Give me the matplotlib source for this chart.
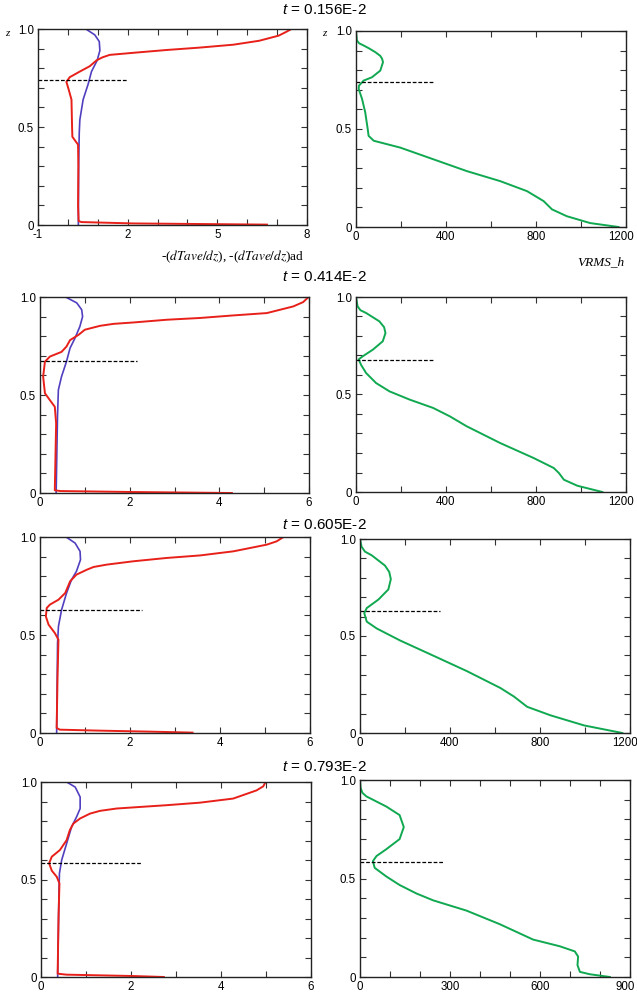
import matplotlib
matplotlib.use("Agg")
import matplotlib.pyplot as plt
import matplotlib.transforms as mtrans
from matplotlib.ticker import MultipleLocator, FixedLocator, FuncFormatter

plt.rcParams['font.family'] = ['Liberation Sans', 'DejaVu Sans']
plt.rcParams['mathtext.fontset'] = 'custom'
plt.rcParams['mathtext.it'] = 'Liberation Sans:italic'
plt.rcParams['mathtext.rm'] = 'Liberation Sans'

# ---- data ----
times = ['0.156E-2', '0.414E-2', '0.605E-2', '0.793E-2']
z_mix = [0.74, 0.675, 0.628, 0.585]          # dashed line level
dash_left_end = [2.0, 2.16, 2.26, 2.24]
dash_right_end = [345, 343, 356, 277]

red_x = [
    [7.48, 7.30, 7.05, 6.40, 5.54, 4.40, 3.31, 2.30, 1.40, 1.15, 0.96, 0.73, 0.40, 0.06, -0.05, 0.01, 0.12, 0.14, 0.15, 0.34, 0.35, 0.34, 0.36, 0.45, 2.19, 4.43, 6.66],
    [5.99, 5.87, 5.65, 5.06, 4.31, 3.57, 2.83, 2.08, 1.64, 1.34, 1.00, 0.86, 0.67, 0.59, 0.48, 0.22, 0.11, 0.07, 0.11, 0.22, 0.33, 0.36, 0.33, 0.45, 2.08, 4.28],
    [5.41, 5.26, 5.04, 4.30, 3.56, 2.81, 2.07, 1.48, 1.19, 1.04, 0.81, 0.67, 0.56, 0.41, 0.22, 0.15, 0.13, 0.19, 0.33, 0.41, 0.39, 0.37, 0.44, 1.33, 2.44, 3.39],
    [4.99, 4.94, 4.79, 4.27, 3.53, 2.79, 2.20, 1.68, 1.31, 1.09, 0.87, 0.72, 0.64, 0.57, 0.42, 0.24, 0.18, 0.24, 0.35, 0.41, 0.39, 0.37, 0.57, 2.05, 2.73],
]
red_z = [
    [1.0, 0.985, 0.966, 0.94, 0.92, 0.905, 0.893, 0.88, 0.868, 0.855, 0.84, 0.81, 0.783, 0.754, 0.73, 0.70, 0.64, 0.50, 0.45, 0.41, 0.30, 0.097, 0.02, 0.015, 0.008, 0.005, 0.002],
    [1.0, 0.974, 0.952, 0.918, 0.906, 0.893, 0.884, 0.87, 0.863, 0.853, 0.833, 0.807, 0.78, 0.747, 0.72, 0.696, 0.67, 0.594, 0.509, 0.474, 0.44, 0.355, 0.014, 0.01, 0.005, 0.0],
    [1.0, 0.978, 0.961, 0.927, 0.906, 0.893, 0.876, 0.859, 0.847, 0.833, 0.808, 0.774, 0.714, 0.68, 0.655, 0.638, 0.595, 0.553, 0.51, 0.476, 0.289, 0.026, 0.017, 0.012, 0.007, 0.002],
    [1.0, 0.978, 0.957, 0.915, 0.894, 0.881, 0.872, 0.864, 0.852, 0.838, 0.813, 0.787, 0.753, 0.702, 0.651, 0.617, 0.583, 0.545, 0.514, 0.48, 0.31, 0.017, 0.012, 0.005, 0.0],
]
blue_x = [
    [0.60, 0.90, 1.05, 1.07, 0.98, 0.79, 0.68, 0.51, 0.40, 0.38, 0.36, 0.35],
    [0.57, 0.82, 0.93, 0.95, 0.89, 0.78, 0.67, 0.59, 0.48, 0.41, 0.39, 0.36],
    [0.58, 0.78, 0.89, 0.90, 0.81, 0.70, 0.59, 0.48, 0.41, 0.39, 0.37],
    [0.57, 0.76, 0.87, 0.87, 0.79, 0.68, 0.57, 0.46, 0.41, 0.40, 0.37],
]
blue_z = [
    [1.0, 0.97, 0.936, 0.89, 0.84, 0.783, 0.72, 0.64, 0.537, 0.47, 0.30, 0.0],
    [1.0, 0.97, 0.935, 0.90, 0.85, 0.79, 0.739, 0.67, 0.594, 0.526, 0.389, 0.0],
    [1.0, 0.969, 0.927, 0.884, 0.825, 0.782, 0.714, 0.629, 0.544, 0.459, 0.0],
    [1.0, 0.974, 0.923, 0.864, 0.821, 0.77, 0.685, 0.60, 0.532, 0.446, 0.0],
]
vrms_x = [
    [0, 4, 14, 34, 60, 86, 108, 116, 120, 108, 71, 34, 13, 12, 27, 41, 52, 56, 79, 197, 345, 493, 641, 760, 834, 871, 937, 1041, 1167],
    [0, 7, 20, 45, 104, 125, 131, 119, 75, 30, 12, 22, 45, 89, 149, 238, 343, 417, 492, 641, 790, 879, 902, 924, 984, 1095],
    [0, 7, 22, 52, 111, 130, 137, 126, 82, 30, 19, 30, 74, 178, 327, 475, 624, 684, 743, 847, 996, 1166],
    [0, 2, 8, 21, 88, 132, 146, 132, 88, 55, 43, 49, 88, 132, 188, 244, 355, 466, 577, 666, 716, 727, 725, 733, 766, 833],
]
vrms_z = [
    [1.0, 0.952, 0.937, 0.926, 0.91, 0.892, 0.873, 0.858, 0.841, 0.798, 0.764, 0.747, 0.721, 0.704, 0.653, 0.585, 0.50, 0.465, 0.44, 0.405, 0.345, 0.285, 0.234, 0.183, 0.132, 0.09, 0.055, 0.02, 0.0],
    [1.0, 0.952, 0.932, 0.918, 0.875, 0.845, 0.815, 0.773, 0.73, 0.696, 0.68, 0.653, 0.61, 0.559, 0.516, 0.474, 0.431, 0.388, 0.337, 0.251, 0.174, 0.123, 0.097, 0.063, 0.032, 0.0],
    [1.0, 0.96, 0.935, 0.916, 0.863, 0.83, 0.793, 0.74, 0.688, 0.644, 0.618, 0.574, 0.539, 0.477, 0.398, 0.319, 0.232, 0.188, 0.135, 0.091, 0.039, 0.0],
    [1.0, 0.96, 0.935, 0.917, 0.865, 0.822, 0.761, 0.70, 0.649, 0.614, 0.588, 0.554, 0.51, 0.467, 0.424, 0.389, 0.337, 0.268, 0.19, 0.156, 0.13, 0.104, 0.06, 0.026, 0.014, 0.0],
]

left_xlim = [(-1, 8), (0, 6), (0, 6), (0, 6)]
left_xticks = [[-1, 2, 5, 8], [0, 2, 4, 6], [0, 2, 4, 6], [0, 2, 4, 6]]
right_xlim = [(0, 1200), (0, 1200), (0, 1200), (0, 900)]
right_xticks = [[0, 400, 800, 1200]] * 3 + [[0, 300, 600, 900]]

# axes boxes in pixels: (left, top, right, bottom)
left_box = [(38, 29, 307, 225), (40, 297, 309, 493), (40, 537, 310, 733), (41, 782, 311, 977)]
right_box = [(356, 31, 626, 227), (356, 297, 626, 492), (360, 539, 630, 733), (360, 780, 630, 977)]
title_y = [10, 277, 525, 767]

W, H = 637, 997
fig = plt.figure(figsize=(W / 100, H / 100), dpi=100)


def make_ax(box):
    l, t, r, b = box
    return fig.add_axes([l / W, 1 - b / H, (r - l) / W, (b - t) / H])


def style(ax, xlim, xticks, xminor):
    ax.set_xlim(*xlim)
    ax.set_ylim(0, 1)
    ax.xaxis.set_major_locator(FixedLocator(xticks))
    ax.xaxis.set_minor_locator(MultipleLocator(xminor))
    ax.yaxis.set_major_locator(FixedLocator([0, 0.5, 1.0]))
    ax.yaxis.set_minor_locator(MultipleLocator(0.1))
    ax.yaxis.set_major_formatter(FuncFormatter(lambda v, p: '0' if v == 0 else f'{v:.1f}'))
    ax.xaxis.set_major_formatter(FuncFormatter(lambda v, p: f'{v:g}'))
    ax.tick_params(which='both', direction='in', top=True, right=True,
                   length=4, width=0.8, color='#333333', labelsize=8.3, pad=3)
    for s in ax.spines.values():
        s.set_linewidth(1.0)
        s.set_color('#222222')


for i in range(4):
    ax = make_ax(left_box[i])
    ax.plot(blue_x[i], blue_z[i], color='#5040c0', lw=1.2)
    ax.plot(red_x[i], red_z[i], color='#e8201a', lw=1.4)
    ax.plot([left_xlim[i][0], dash_left_end[i]], [z_mix[i]] * 2, color='k',
            lw=0.9, dashes=(3, 1.5))
    style(ax, left_xlim[i], left_xticks[i], 1)

    ax2 = make_ax(right_box[i])
    ax2.plot(vrms_x[i], vrms_z[i], color='#10a850', lw=1.4)
    ax2.plot([0, dash_right_end[i]], [z_mix[i]] * 2, color='k', lw=0.9, dashes=(3, 1.5))
    style(ax2, right_xlim[i], right_xticks[i], 100 if i == 3 else 200)
    # pull the last x label a little inward so it stays on the page
    fig.canvas.draw()
    last = ax2.get_xticklabels()[-1]
    last.set_transform(last.get_transform() + mtrans.ScaledTranslation(-5 / 100, 0, fig.dpi_scale_trans))

    fig.text(324 / W, 1 - title_y[i] / H, r'$t$ = ' + times[i], ha='center', va='center',
             fontsize=11)

# axis labels (only on the first row)
fig.text(5 / W, 1 - 33 / H, 'z', family='Liberation Serif', style='italic',
         fontsize=8, ha='left', va='center')
fig.text(322 / W, 1 - 34 / H, 'z', family='Liberation Serif', style='italic',
         fontsize=8, ha='left', va='center')
fig.text(233 / W, 1 - 257 / H, r'-($dTave/dz$), -($dTave/dz$)ad', family='Liberation Serif',
         math_fontfamily='stix', fontsize=9.5, ha='center', va='center')
fig.text(601 / W, 1 - 262 / H, 'VRMS_h', family='Liberation Serif', style='italic',
         fontsize=9.5, ha='center', va='center')

fig.savefig('out.png', dpi=100)
